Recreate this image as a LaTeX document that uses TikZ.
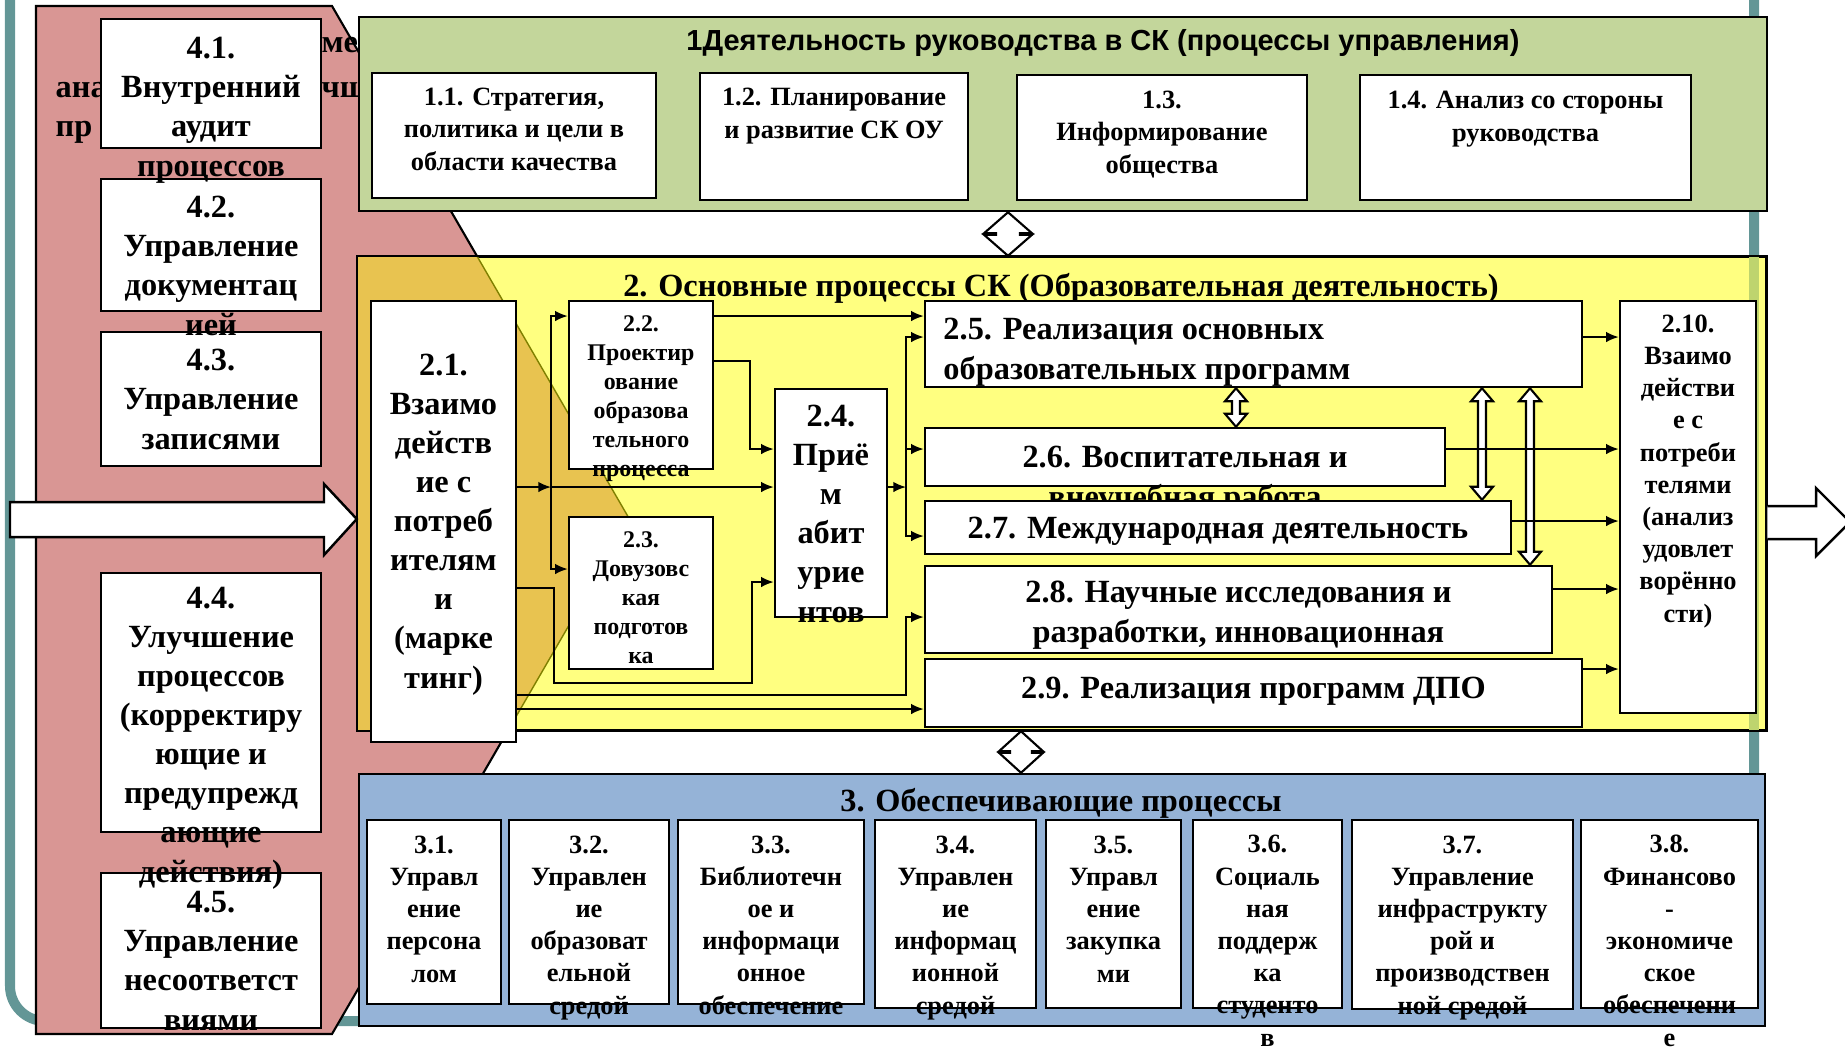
\documentclass[tikz,border=0pt]{standalone}
\usepackage{fontspec}
\setmainfont{Liberation Serif}
\newfontfamily\headsans{Liberation Sans}
\usepackage{tikz}
\usetikzlibrary{arrows.meta, calc, fit, positioning}

\definecolor{colorFrame}{RGB}{99,150,150}
\definecolor{colorPink}{RGB}{217,150,148}
\definecolor{colorGreen}{RGB}{195,214,155}
\definecolor{colorYellow}{RGB}{255,255,128}
\definecolor{colorBlue}{RGB}{149,179,215}
\definecolor{colorOrange}{RGB}{232,195,80}
\definecolor{colorOlive}{RGB}{128,128,0}
\definecolor{colorTealThru}{RGB}{190,212,110}

\newcommand\fbig{\fontsize{9.2}{11.1}\selectfont\bfseries}
\newcommand\fmid{\fontsize{7.5}{9.15}\selectfont\bfseries}
\newcommand\fsmall{\fontsize{6.8}{8.2}\selectfont\bfseries}
\newcommand\ftitle{\headsans\fontsize{8.25}{10}\selectfont\bfseries}

% hollow two-headed block arrow: half width, head length, shaft half width, from, to
\newcommand\blockarrow[5]{%
  \path[draw, fill=white, line width=.6pt] let \p1=(#4), \p2=(#5) in
    (\p1) -- ++(#1,#2) -- ++({#3-#1},0) -- ({\x1+#3*0.01cm},{\y2+#2*0.01cm})
    -- ++({#1-#3},0) -- (\p2) -- ++(-#1,-#2) -- ++({#1-#3},0)
    -- ({\x1-#3*0.01cm},{\y1-#2*0.01cm}) -- ++({#3-#1},0) -- cycle;}

\begin{document}
\begin{tikzpicture}[x=0.01cm, y=-0.01cm, >={Latex[length=3.6pt, width=3pt]},
  group/.style={draw, line width=.7pt, inner sep=0pt},
  box/.style={draw, fill=white, line width=.7pt, inner sep=0pt},
  txt/.style={align=center, inner sep=0pt, anchor=base, font=\fbig},
  conn/.style={->, line width=.55pt},
  bigarrow/.style={draw, fill=white, line width=.7pt}]
\useasboundingbox (0,0) rectangle (1845,1047);
\clip (0,0) rectangle (1845,1047);

\draw[line width=0.1cm, colorFrame, rounded corners=0.35cm] (10,-40) -- (10,1021) -- (1754,1021) -- (1754,-40);

% 4 group
\path[draw, fill=colorPink, line width=.6pt] (36,6) -- (332,6) -- (630,520) -- (332,1034) -- (36,1034) -- cycle;
\node[txt, anchor=base west] (f1) at (321,52) {ме};
\node[txt, anchor=base west] (f2) at (55,97) {ана};
\node[txt, anchor=base west] (f3) at (321,97) {чш};
\node[txt, anchor=base west] (f4) at (55,136) {пр};

% 1 group (text anchors sit on the last line)
\node[group, fill=colorGreen, fit={(359,17) (1767,211)}] (b1) {};
\node[txt, font=\ftitle] (t1) at (1103,50) {1Деятельность руководства в СК (процессы управления)};
\node[box, fit={(372,73) (656,198)}] (b11) {};
\node[box, fit={(700,73) (968,200)}] (b12) {};
\node[box, fit={(1017,75) (1307,200)}] (b13) {};
\node[box, fit={(1360,75) (1691,200)}] (b14) {};
\node[txt, font=\fmid] (t11) at (b11.north |- 0,170) {1.1. Стратегия,\\политика и цели в\\области качества};
\node[txt, font=\fmid] (t12) at (b12.north |- 0,138) {1.2. Планирование\\и развитие СК ОУ};
\node[txt, font=\fmid] (t13) at (b13.north |- 0,173) {1.3.\\Информирование\\общества};
\node[txt, font=\fmid] (t14) at (b14.north |- 0,141) {1.4. Анализ со стороны\\руководства};

% 2 group
\node[group, fill=colorYellow, fit={(358,257) (1766,730)}] (b2) {};
\begin{scope}
  \clip (b2.north west) rectangle (b2.south east);
  \path[fill=colorOrange, draw=colorOlive, line width=.4pt] (36,6) -- (332,6) -- (630,520) -- (332,1034) -- (36,1034) -- cycle;
  \draw[line width=0.1cm, colorTealThru] (1754,200) -- (1754,800);
\end{scope}
\draw[line width=.7pt] (b2.north west) rectangle (b2.south east);
\node[txt] (t2) at (1061,296) {2. Основные процессы СК (Образовательная деятельность)};

% 3 group
\node[group, fill=colorBlue, fit={(359,774) (1765,1026)}] (b3) {};
\node[txt] (t3) at (1061,811) {3. Обеспечивающие процессы};
\node[box, fit={(367,820) (501,1004)}] (b31) {};
\node[box, fit={(509,820) (669,1004)}] (b32) {};
\node[box, fit={(678,820) (864,1004)}] (b33) {};
\node[box, fit={(875,820) (1036,1008)}] (b34) {};
\node[box, fit={(1046,820) (1181,1008)}] (b35) {};
\node[box, fit={(1193,820) (1342,1008)}] (b36) {};
\node[box, fit={(1352,820) (1573,1009)}] (b37) {};
\node[box, fit={(1581,820) (1758,1008)}] (b38) {};
\node[txt, font=\fmid] (t31) at (b31.north |- 0,982) {3.1.\\Управл\\ение\\персона\\лом};
\node[txt, font=\fmid] (t32) at (b32.north |- 0,1014) {3.2.\\Управлен\\ие\\образоват\\ельной\\средой};
\node[txt, font=\fmid] (t33) at (b33.north |- 0,1014) {3.3.\\Библиотечн\\ое и\\информаци\\онное\\обеспечение};
\node[txt, font=\fmid] (t34) at (b34.north |- 0,1014) {3.4.\\Управлен\\ие\\информац\\ионной\\средой};
\node[txt, font=\fmid] (t35) at (b35.north |- 0,982) {3.5.\\Управл\\ение\\закупка\\ми};
\node[txt, font=\fmid] (t36) at (b36.north |- 0,1046) {3.6.\\Социаль\\ная\\поддерж\\ка\\студенто\\в};
\node[txt, font=\fmid] (t37) at (b37.north |- 0,1014) {3.7.\\Управление\\инфраструкту\\рой и\\производствен\\ной средой};
\node[txt, font=\fmid] (t38) at (b38.north |- 0,1046) {3.8.\\Финансово\\-\\экономиче\\ское\\обеспечени\\е};

% in and out
\coordinate (inL) at (10,502);
\coordinate (outR) at (1850,522);
\draw[bigarrow] (inL) -- (324,502) -- (324,484) -- (b2.west |- 0,519) -- (324,555) -- (324,537) -- (10,537) -- cycle;
\draw[bigarrow] (b2.east |- 0,506) -- (1816,506) -- (1816,488) -- (outR) -- (1816,556) -- (1816,539) -- (b2.east |- 0,539);
\coordinate (g1) at (1008,0);
\coordinate (g2) at (1021,0);
\blockarrow{24}{21}{12}{b1.south -| g1}{b2.north -| g1}
\blockarrow{22}{20}{11}{b2.south -| g2}{b3.north -| g2}

% 4.x
\node[box, fit={(101,19) (321,148)}] (b41) {};
\node[box, fit={(101,179) (321,311)}] (b42) {};
\node[box, fit={(101,332) (321,466)}] (b43) {};
\node[box, fit={(101,573) (321,832)}] (b44) {};
\node[box, fit={(101,873) (321,1028)}] (b45) {};
\node[txt] (t41) at (b41.north |- 0,176) {4.1.\\Внутренний\\аудит\\процессов};
\node[txt] (t42) at (b42.north |- 0,335) {4.2.\\Управление\\документац\\ией};
\node[txt] (t43) at (b43.north |- 0,449) {4.3.\\Управление\\записями};
\node[txt] (t44) at (b44.north |- 0,882) {4.4.\\Улучшение\\процессов\\(корректиру\\ющие и\\предупрежд\\ающие\\действия)};
\node[txt] (t45) at (b45.north |- 0,1030) {4.5.\\Управление\\несоответст\\виями};

% 2.x
\node[box, fit={(371,301) (516,742)}] (b21) {};
\node[box, fit={(569,301) (713,469)}] (b22) {};
\node[box, fit={(569,517) (713,669)}] (b23) {};
\node[box, fit={(775,389) (887,617)}] (b24) {};
\node[box, fit={(925,301) (1582,387)}] (b25) {};
\node[box, fit={(925,428) (1445,486)}] (b26) {};
\node[txt] (t26) at (b26.north |- 0,507) {2.6. Воспитательная и\\внеучебная работа};
\node[box, fit={(925,501) (1511,554)}] (b27) {};
\node[box, fit={(925,566) (1552,653)}] (b28) {};
\node[box, fit={(925,659) (1582,727)}] (b29) {};
\node[box, fit={(1620,301) (1756,713)}] (b210) {};
\node[txt] (t21) at (b21.north |- 0,688) {2.1.\\Взаимо\\действ\\ие с\\потреб\\ителям\\и\\(марке\\тинг)};
\node[txt, font=\fsmall] (t22) at (b22.north |- 0,476) {2.2.\\Проектир\\ование\\образова\\тельного\\процесса};
\node[txt, font=\fsmall] (t23) at (b23.north |- 0,663) {2.3.\\Довузовс\\кая\\подготов\\ка};
\node[txt] (t24) at (b24.north |- 0,622) {2.4.\\Приё\\м\\абит\\урие\\нтов};
\node[txt, align=left, anchor=base west, xshift=.19cm] (t25) at (b25.west |- 0,379) {2.5. Реализация основных\\образовательных программ};
\node[txt] (t27) at (b27.north |- 0,538) {2.7. Международная деятельность};
\node[txt] (t28) at (b28.north |- 0,642) {2.8. Научные исследования и\\разработки, инновационная};
\node[txt] (t29) at (b29.north |- 0,698) {2.9. Реализация программ ДПО};
\node[txt, font=\fmid] (t210) at (b210.north |- 0,622) {2.10.\\Взаимо\\действи\\е с\\потреби\\телями\\(анализ\\удовлет\\ворённо\\сти)};

\coordinate (d1) at (1236,0);
\coordinate (d2) at (1482,0);
\coordinate (d3) at (1530,0);
\blockarrow{11}{13}{4}{b25.south -| d1}{b26.north -| d1}
\blockarrow{11}{13}{4}{b25.south -| d2}{b27.north -| d2}
\blockarrow{11}{13}{4}{b25.south -| d3}{b28.north -| d3}

\coordinate (jL) at (551,487);
\coordinate (jR) at (906,487);
\draw[conn] (b21.east |- jL) -- (jL);
\draw[conn] (jL) -- (b24.west |- jL);
\draw[conn] (jL) |- (b22.west |- 0,316);
\draw[conn] (jL) |- (b23.west |- 0,569);
\draw[conn] (b22.east |- 0,316) -- (b25.west |- 0,316);
\draw[conn] (b22.east |- 0,361) -| (750,449) -- (b24.west |- 0,449);
\draw[conn] (b21.east |- 0,588) -| (554,683) -| (752,582) -- (b24.west |- 0,582);
\draw[conn] (b21.east |- 0,695) -| (906,617) -- (b28.west |- 0,617);
\draw[conn] (b21.east |- 0,709) -- (b29.west |- 0,709);
\draw[conn] (b24.east |- jR) -- (jR);
\draw[conn] (jR) |- (b25.west |- 0,337);
\draw[conn] (jR) |- (b26.west |- 0,449);
\draw[conn] (jR) |- (b27.west |- 0,536);
\draw[conn] (b25.east |- 0,337) -- (b210.west |- 0,337);
\draw[conn] (b26.east |- 0,449) -- (b210.west |- 0,449);
\draw[conn] (b27.east |- 0,521) -- (b210.west |- 0,521);
\draw[conn] (b28.east |- 0,589) -- (b210.west |- 0,589);
\draw[conn] (b29.east |- 0,669) -- (b210.west |- 0,669);
\end{tikzpicture}
\end{document}
